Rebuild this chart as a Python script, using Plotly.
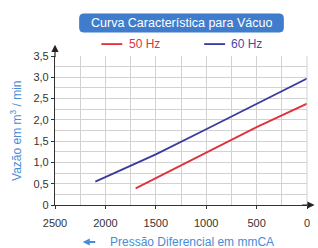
import plotly.graph_objects as go

# Data
pressure_60 = [2100, 1500, 1000, 500, 0]
flow_60 = [0.55, 1.19, 1.78, 2.37, 2.97]
pressure_50 = [1700, 1000, 500, 0]
flow_50 = [0.39, 1.23, 1.83, 2.38]
x_ticks = [2500, 2000, 1500, 1000, 500, 0]
y_ticks = [0, 0.5, 1.0, 1.5, 2.0, 2.5, 3.0, 3.5]
y_tick_labels = ["0", "0,5", "1,0", "1,5", "2,0", "2,5", "3,0", "3,5"]

RED = "#e0323c"
BLUE = "#3a3a9c"
TITLE_BLUE = "#4a8bd6"
FONT = "Arial, Liberation Sans, sans-serif"

fig = go.Figure()
fig.add_trace(go.Scatter(x=pressure_50, y=flow_50, mode="lines", name="50 Hz",
                         line=dict(color=RED, width=1.8)))
fig.add_trace(go.Scatter(x=pressure_60, y=flow_60, mode="lines", name="60 Hz",
                         line=dict(color=BLUE, width=1.8)))

grid = "#d2d2d2"
fig.update_xaxes(range=[2500, 0], tickvals=x_ticks, showgrid=True, gridcolor=grid, gridwidth=1,
                 minor=dict(dtick=250, showgrid=True, gridcolor=grid, gridwidth=1, tick0=0),
                 showline=True, linecolor="#333", linewidth=1.2, ticks="outside", ticklen=3,
                 ticklabelstandoff=5,
                 tickcolor="#333", zeroline=False, tickfont=dict(size=11, color="#333", family=FONT))
fig.update_yaxes(range=[0, 3.5], tickvals=y_ticks, ticktext=y_tick_labels, showgrid=True,
                 gridcolor=grid, gridwidth=1,
                 minor=dict(dtick=0.25, showgrid=True, gridcolor=grid, gridwidth=1, tick0=0),
                 showline=True, linecolor="#333", linewidth=1.2, ticks="outside", ticklen=3,
                 tickcolor="#333", zeroline=False, tickfont=dict(size=11, color="#333", family=FONT))

shapes = [
    dict(type="line", xref="paper", yref="paper", x0=1, x1=1, y0=0, y1=1, line=dict(color=grid, width=1)),
]
# Rounded title box
x0, x1, y0, y1 = 0.098, 0.906, 1.161, 1.282
rx, ry = 0.014, 0.024
path = (f"M {x0+rx},{y0} L {x1-rx},{y0} Q {x1},{y0} {x1},{y0+ry} L {x1},{y1-ry} Q {x1},{y1} {x1-rx},{y1} "
        f"L {x0+rx},{y1} Q {x0},{y1} {x0},{y1-ry} L {x0},{y0+ry} Q {x0},{y0} {x0+rx},{y0} Z")
shapes.append(dict(type="path", xref="paper", yref="paper", path=path, fillcolor="#3f7ccc",
                   line=dict(color="#3f7ccc", width=1)))
shapes.append(dict(type="line", xref="paper", yref="paper", x0=0.184, x1=0.267, y0=1.08, y1=1.08,
                   line=dict(color=RED, width=1.8)))
shapes.append(dict(type="line", xref="paper", yref="paper", x0=0.592, x1=0.675, y0=1.08, y1=1.08,
                   line=dict(color=BLUE, width=1.8)))

annotations = [
    dict(text="Curva Característica para Vácuo", xref="paper", yref="paper", x=0.502, y=1.221,
         showarrow=False, font=dict(color="white", size=12.5, family=FONT), xanchor="center", yanchor="middle"),
    dict(text="50 Hz", xref="paper", yref="paper", x=0.284, y=1.08, showarrow=False, xanchor="left",
         yanchor="middle", font=dict(color=RED, size=12, family=FONT)),
    dict(text="60 Hz", xref="paper", yref="paper", x=0.692, y=1.08, showarrow=False, xanchor="left",
         yanchor="middle", font=dict(color="#4848a8", size=12, family=FONT)),
    dict(text="Vazão em m<sup>3</sup> / min", xref="paper", yref="paper", x=-0.157, y=0.5, textangle=-90,
         showarrow=False, xanchor="center", yanchor="middle", font=dict(color=TITLE_BLUE, size=12, family=FONT)),
    dict(text="Pressão Diferencial em mmCA", xref="paper", yref="paper", x=0.542, y=-0.248,
         showarrow=False, xanchor="center", yanchor="middle", font=dict(color=TITLE_BLUE, size=12, family=FONT)),
    dict(text="", xref="paper", yref="paper", x=0.11, y=-0.248, ax=14, ay=0, showarrow=True,
         arrowhead=2, arrowsize=0.7, arrowwidth=2, arrowcolor=TITLE_BLUE),
    dict(text="", xref="paper", yref="paper", x=0, y=1.075, ax=0, ay=14, showarrow=True,
         arrowhead=2, arrowsize=1.2, arrowwidth=1.2, arrowcolor="#222"),
    dict(text="", xref="paper", yref="paper", x=1.03, y=0, ax=-14, ay=0, showarrow=True,
         arrowhead=2, arrowsize=1.2, arrowwidth=1.2, arrowcolor="#222"),
]

fig.update_layout(width=318, height=248, margin=dict(l=55, r=8, t=56, b=43),
                  paper_bgcolor="white", plot_bgcolor="white", showlegend=False,
                  shapes=shapes, annotations=annotations, font=dict(family=FONT))
fig.write_html("out.html", config={"displayModeBar": False},
               post_script="document.body.style.margin='0';document.body.style.overflow='hidden';")
